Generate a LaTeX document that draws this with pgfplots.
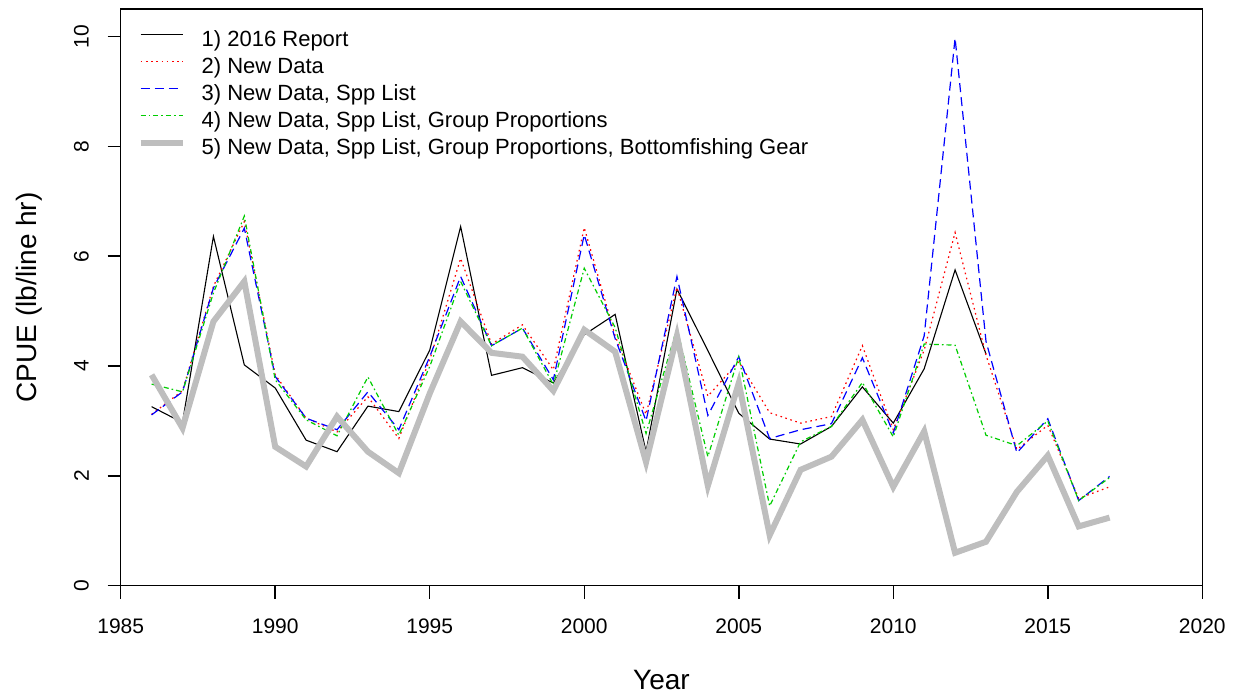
\documentclass[border=0pt]{standalone}
\usepackage{pgfplots}
\pgfplotsset{compat=1.18}
\usepackage{pgfplotstable}
\usepackage{fontspec}
\setmainfont{Liberation Sans}

\definecolor{rgreen}{HTML}{00CD00}
\definecolor{rgray}{HTML}{BEBEBE}

% CPUE by year, one column per run (nan = no value)
\pgfplotstableread{
year rep16 newdat spp grp gear
1986 3.26 3.12 3.11 3.67 3.84
1987 2.97 3.55 3.53 3.53 2.87
1988 6.36 5.45 5.42 5.33 4.81
1989 4.02 6.63 6.51 6.73 5.54
1990 3.60 3.84 3.81 3.75 2.53
1991 2.65 3.05 3.05 3.02 2.17
1992 2.44 2.80 2.84 2.73 3.08
1993 3.27 3.44 3.53 3.80 2.44
1994 3.17 2.68 2.84 2.74 2.05
1995 4.29 4.11 4.17 3.99 3.50
1996 6.54 5.96 5.63 5.54 4.81
1997 3.83 4.40 4.37 4.37 4.24
1998 3.97 4.75 4.69 4.69 4.17
1999 3.69 3.93 3.75 3.66 3.55
2000 4.57 6.52 6.39 5.78 4.66
2001 4.94 4.55 4.50 4.70 4.26
2002 2.44 3.12 3.00 2.77 2.25
2003 5.40 5.43 5.63 4.69 4.55
2004 4.28 3.45 3.10 2.35 1.82
2005 3.14 4.08 4.17 4.17 3.69
2006 2.67 3.15 2.68 1.45 0.92
2007 2.58 2.96 2.84 2.62 2.11
2008 2.90 3.08 2.95 2.90 2.35
2009 3.62 4.37 4.15 3.70 3.02
2010 2.96 2.84 2.78 2.71 1.80
2011 3.95 4.29 4.55 4.40 2.81
2012 5.75 6.43 9.97 4.38 0.60
2013 4.22 4.20 4.45 2.74 0.80
2014 nan  2.48 2.42 2.55 1.71
2015 nan  2.92 3.04 3.00 2.37
2016 nan  1.59 1.55 1.55 1.08
2017 nan  1.80 1.99 1.97 1.24
}\cpue

\begin{document}
\begin{tikzpicture}
\useasboundingbox (-60.35pt,-53.65pt) rectangle (556.65pt,292.85pt);
\begin{axis}[
    scale only axis,
    width=540.8pt, height=288.35pt,
    xmin=1985, xmax=2020,
    ymin=0, ymax=10.5,
    xtick={1985,1990,...,2020},
    ytick={0,2,...,10},
    xtick pos=bottom, ytick pos=left,
    tick align=outside,
    major tick length=6.5pt,
    major tick style={black, line width=0.75pt},
    axis line style={line width=0.75pt},
    /pgf/number format/1000 sep={},
    /pgf/number format/assume math mode=true,
    tick label style={font=\fontsize{10.5}{12}\selectfont},
    xticklabel style={anchor=center, yshift=-13.8pt},
    yticklabel style={anchor=center, xshift=-13.1pt, rotate=90},
    xlabel={Year},
    ylabel={CPUE (lb/line hr)},
    label style={font=\fontsize{14}{16}\selectfont},
    xlabel style={at={(axis description cs:0.5,0)}, anchor=center, yshift=-47pt},
    ylabel style={at={(axis description cs:0,0.5)}, anchor=center, yshift=45.5pt},
    legend cell align=left,
    legend image code/.code={\draw[#1] (0pt,3.6pt) -- (21pt,3.6pt);},
    legend style={at={(axis description cs:0,1)}, anchor=north west,
        xshift=8.3pt, yshift=-9.5pt, draw=none, fill=none, inner sep=0pt,
        column sep=8pt, row sep=0pt,
        font=\fontsize{11}{13.5}\selectfont,
        nodes={inner sep=0pt, text height=9pt, text depth=4.5pt}},
]
\addplot[black, line width=0.55pt] table[x=year, y=rep16] {\cpue};
\addplot[red, line width=0.6pt, dash pattern=on 0.8pt off 1.8pt] table[x=year, y=newdat] {\cpue};
\addplot[blue, line width=0.6pt, dash pattern=on 4.5pt off 2.5pt] table[x=year, y=spp] {\cpue};
\addplot[rgreen, line width=0.6pt, dash pattern=on 2.5pt off 1.5pt on 0.8pt off 1.5pt] table[x=year, y=grp] {\cpue};
\addplot[rgray, line width=3pt] table[x=year, y=gear] {\cpue};
\legend{1) 2016 Report, 2) New Data, {3) New Data, Spp List}, {4) New Data, Spp List, Group Proportions}, {5) New Data, Spp List, Group Proportions, Bottomfishing Gear}}
\end{axis}
\end{tikzpicture}
\end{document}
